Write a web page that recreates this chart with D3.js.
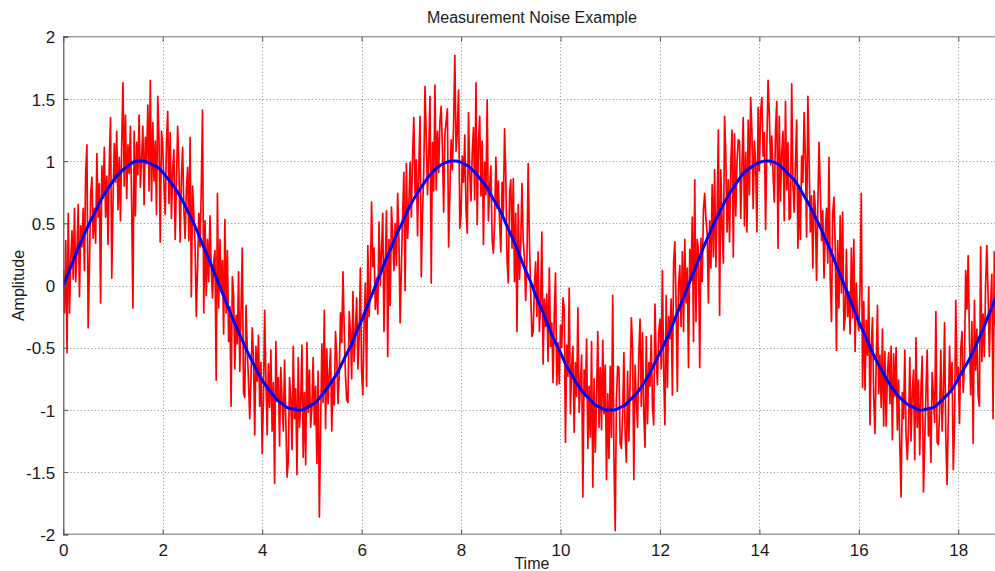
<!DOCTYPE html>
<html>
<head>
<meta charset="utf-8">
<script src="https://cdn.jsdelivr.net/npm/d3@7"></script>
<style>
  body { margin: 0; background: #fff; }
  svg { display: block; font-family: "Liberation Sans", Arial, sans-serif; }
</style>
</head>
<body>
<svg id="chart" width="995" height="571"></svg>
<script>
// time step of each series (samples start at t = 0)
const noisyStep = 0.025;
const cleanStep = 0.1;

const noisy = [
  0.12, -0.22, 0.36, -0.54, 0.58, -0.22, 0.20, 0.44, 0.05, 0.62, 0.03, 0.29, 0.65, -0.09, 0.48, 0.31, 0.62, 0.12, 0.91, 1.13, -0.34, 0.13, 0.73, 0.87, 0.38, 0.62, 0.34, 1.06, 0.55, 0.82, -0.14, 0.96, 0.70, 1.11, 0.55, 0.88, 0.33, 0.99, 1.35, 0.06,
  0.67, 1.14, 0.83, 1.24, 0.61, 1.03, 0.52, 1.14, 1.63, 0.80, 1.37, 0.70, 1.13, 0.90, 1.28, 0.65, -0.18, 1.24, 0.56, 1.15, 0.89, 1.37, 0.79, 1.03, 1.28, 0.65, 1.19, 0.98, 1.45, 0.76, 1.65, 0.68, 1.31, 0.84, 1.16, 0.57, 1.52, 1.18, 0.35, 1.24,
  1.12, 0.81, 0.57, 1.15, 1.40, 0.66, 1.23, 0.54, 0.93, 1.09, 0.37, 0.82, 1.28, 0.97, 0.35, 0.86, 1.11, 0.61, 0.38, 0.76, 0.95, 0.36, 1.19, -0.09, 0.80, 0.58, 0.34, -0.25, 0.13, 0.58, 0.31, 0.77, 1.41, -0.22, 0.52, -0.08, 0.37, 0.03, 0.56, 0.15,
  -0.10, 0.19, 0.28, -0.76, 0.74, -0.18, 0.37, -0.05, 0.20, -0.39, 0.53, -0.22, 0.28, -0.45, -0.17, -0.97, 0.07, -0.07, -0.67, -0.24, -0.47, 0.11, -0.69, -0.19, 0.30, -0.86, -0.90, -0.16, -0.51, -0.77, -1.07, -0.74, -0.34, -0.58, -1.20, -0.49, -0.77, -0.40, -0.97, -0.62,
  -1.35, -0.93, -0.20, -0.75, -1.20, -0.63, -0.98, -0.52, -1.17, -0.78, -1.59, -0.45, -0.93, -0.74, -1.29, -0.66, -0.92, -1.17, -0.60, -1.08, -1.54, -1.41, -0.74, -0.91, -1.32, -0.49, -1.07, -0.83, -1.52, -0.58, -1.14, -0.94, -0.48, -1.38, -0.86, -1.44, -0.46, -1.02, -0.68, -1.14,
  -0.98, -0.58, -1.12, -0.81, -1.43, -0.69, -1.86, -1.14, -0.47, -0.94, -0.20, -1.15, -0.51, -0.95, -0.71, -0.51, -1.17, -0.75, -0.96, -0.37, -0.57, -0.95, -0.72, -0.22, -0.46, 0.11, -0.35, -0.72, -0.92, -0.94, -0.21, -0.37, -0.75, -0.05, -0.61, -0.37, -0.10, -0.67, -0.42, 0.14,
  -0.69, -0.88, -0.29, 0.02, -0.81, 0.32, -0.25, -0.02, 0.67, 0.15, 0.30, -0.19, 0.06, -0.23, 0.51, 0.00, 0.28, 0.58, -0.37, 0.17, 0.60, -0.57, 0.37, -0.16, 0.63, 0.41, 0.12, 0.50, 0.16, 0.74, 0.37, -0.30, 0.15, 0.57, 0.91, -0.04, 0.98, 0.38, 0.64, 0.99,
  0.55, 1.04, 1.35, 0.74, 1.01, 0.40, 0.95, 1.36, 0.07, 0.58, 0.92, 1.60, 1.19, 0.73, 1.08, 1.52, 0.02, 1.15, 0.76, 1.61, 0.77, 1.24, 0.91, 1.32, 1.44, 1.11, 0.59, 1.21, 1.32, 1.42, 0.31, 0.74, 1.17, 0.93, 1.30, 1.85, 1.08, 1.24, 1.57, 0.46,
  0.58, 1.04, 0.83, 1.21, 0.61, 0.42, 1.39, 0.90, 0.68, 1.07, 1.27, 0.69, 1.63, 0.49, 1.16, 1.36, 0.72, 1.16, 0.33, 0.99, 0.73, 1.49, 0.52, 0.79, 0.96, 0.38, 0.26, 0.50, 1.03, 0.62, 0.84, 0.52, 0.27, 0.83, 0.57, 1.26, 0.89, 0.20, 0.02, 0.73,
  0.85, 0.30, 0.86, 0.03, 0.58, -0.37, 0.65, 0.05, 0.33, 0.82, 0.36, 0.22, -0.12, 0.22, 0.98, 0.36, -0.05, -0.41, -0.37, 0.00, 0.19, -0.25, 0.27, -0.37, -0.15, 0.43, -0.63, -0.11, -0.33, -0.07, -0.61, 0.14, -0.49, -0.30, -0.78, -0.23, 0.10, -0.80, -0.46, -0.79,
  -0.32, -0.50, -0.10, -0.19, -1.26, -0.48, -0.73, -0.02, -1.03, -0.64, -0.49, -1.18, -0.62, -0.89, -0.18, -1.02, -0.80, -0.56, -1.70, -0.68, -0.89, -0.43, -1.31, -0.81, -1.22, -0.45, -1.62, -0.75, -1.34, -0.91, -0.37, -1.14, -0.66, -1.16, -0.44, -1.03, -0.64, -1.56, -0.87, -1.39,
  -0.65, -1.22, -0.08, -1.40, -1.97, -0.90, -0.65, -0.66, -1.27, -1.31, -1.03, -0.54, -1.19, -1.42, -0.69, -1.25, -0.77, -0.26, -0.51, -1.56, -0.64, -0.93, -1.14, -0.54, -0.27, -0.97, -0.38, -1.03, -1.30, -0.41, -1.11, -0.62, -0.81, -0.40, -0.98, -1.12, -0.15, -0.61, -0.80, -0.38,
  -0.27, -0.67, 0.12, -0.70, -1.12, -0.08, -0.82, -0.25, -0.43, -0.11, -0.88, 0.19, 0.35, -0.16, -0.85, 0.01, 0.16, -0.33, 0.27, -0.37, 0.37, -0.14, 0.14, -0.66, 0.29, 0.04, 0.55, -0.45, 0.85, -0.29, 0.37, 0.28, -0.66, 0.38, 0.03, 0.61, 0.74, 0.53, 0.42, -0.14,
  0.52, 0.14, 0.81, 0.23, 0.93, 0.15, 0.60, 1.25, -0.24, 0.93, 0.46, 0.18, 1.36, 1.05, 0.43, 0.85, 0.35, 0.98, 1.25, 0.23, 1.22, 0.56, 1.00, 1.17, 1.16, 0.54, 0.96, 1.35, 0.48, 1.07, 0.43, 1.33, 0.73, 1.51, 1.24, 0.62, 1.16, 0.97, 0.43, 1.43,
  0.92, 1.40, 1.51, 1.04, 1.23, 0.45, 1.13, 1.65, 1.37, 0.97, 1.20, 0.90, 0.67, 1.25, 1.48, 0.30, 1.36, 0.68, 1.07, 1.24, 0.52, 1.48, 0.77, 1.15, 0.53, 0.55, 1.62, 0.81, 0.59, 0.97, 1.33, 0.30, 0.80, 0.37, 1.04, 0.83, 1.39, 1.03, 0.39, 1.52,
  1.03, 0.43, 0.72, 0.14, 0.76, 0.62, 0.04, 0.63, 1.15, 0.78, 0.36, 0.60, 0.06, 0.43, 0.62, 0.18, 1.03, 0.06, -0.29, 0.58, 0.71, 0.32, -0.52, 0.36, -0.18, 0.56, -0.06, 0.59, -0.36, -0.25, 0.29, -0.25, -0.05, -0.39, 0.30, -0.26, 0.37, -0.53, 0.02, -0.28,
  -0.36, -0.01, 0.74, -0.82, -0.13, -0.84, -0.28, -0.56, -0.01, -1.12, -0.49, -0.26, -0.91, -1.19, -0.61, -0.16, -0.87, -0.56, -0.98, -0.35, -1.13, -0.53, -1.13, -0.71, -0.54, -0.95, -0.49, -1.24, -0.55, -0.89, -0.50, -1.16, -0.76, -1.29, -1.70, -0.86, -1.07, -0.52, -1.21, -1.40,
  -1.15, -0.58, -1.25, -0.86, -0.68, -1.40, -0.42, -1.14, -0.76, -1.36, -0.83, -0.57, -1.66, -1.26, -0.86, -0.52, -1.21, -0.98, -1.42, -0.70, -0.89, -1.10, -0.21, -1.26, -1.28, -1.01, -0.52, -1.17, -0.87, -0.30, -1.23, -1.60, -1.05, -0.49, -0.86, -0.62, -1.48, -1.12, -0.12, -0.74,
  -0.66, -1.11, -0.51, -0.37, -0.86, -0.62, 0.12, -0.19, 0.24, -0.43, -0.88, -0.29, -1.27, -0.12, -0.68, -0.35, -0.89, -0.97, 0.31, -0.61, -0.23, -0.57, 0.01, 0.32, -0.07, -0.57, -0.15, 0.09, -1.07, 0.27, -0.32, -0.06, 0.30, -0.44, 0.14
];

// clean reference curve
const clean = [
  0.00, 0.10, 0.20, 0.30, 0.39, 0.48, 0.56, 0.64, 0.72, 0.78, 0.84, 0.89, 0.93, 0.96, 0.99, 1.00, 1.00, 0.99, 0.97, 0.95,
  0.91, 0.86, 0.81, 0.75, 0.68, 0.60, 0.52, 0.43, 0.33, 0.24, 0.14, 0.04, -0.06, -0.16, -0.26, -0.35, -0.44, -0.53, -0.61, -0.69,
  -0.76, -0.82, -0.87, -0.92, -0.95, -0.98, -0.99, -1.00, -1.00, -0.98, -0.96, -0.93, -0.88, -0.83, -0.77, -0.71, -0.63, -0.55, -0.47, -0.37,
  -0.28, -0.18, -0.08, 0.02, 0.12, 0.22, 0.31, 0.41, 0.49, 0.58, 0.66, 0.73, 0.79, 0.85, 0.90, 0.94, 0.97, 0.99, 1.00, 1.00,
  0.99, 0.97, 0.94, 0.90, 0.85, 0.80, 0.73, 0.66, 0.59, 0.50, 0.41, 0.32, 0.22, 0.12, 0.03, -0.08, -0.17, -0.27, -0.37, -0.46,
  -0.54, -0.63, -0.70, -0.77, -0.83, -0.88, -0.92, -0.96, -0.98, -1.00, -1.00, -1.00, -0.98, -0.96, -0.92, -0.88, -0.83, -0.77, -0.70, -0.62,
  -0.54, -0.46, -0.37, -0.27, -0.17, -0.07, 0.03, 0.13, 0.23, 0.33, 0.42, 0.51, 0.59, 0.67, 0.74, 0.80, 0.86, 0.91, 0.94, 0.97,
  0.99, 1.00, 1.00, 0.99, 0.97, 0.93, 0.89, 0.85, 0.79, 0.72, 0.65, 0.57, 0.49, 0.40, 0.31, 0.21, 0.11, 0.01, -0.09, -0.19,
  -0.29, -0.38, -0.47, -0.56, -0.64, -0.71, -0.78, -0.84, -0.89, -0.93, -0.96, -0.98, -1.00, -1.00, -0.99, -0.98, -0.95, -0.91, -0.87, -0.82,
  -0.75, -0.68, -0.61, -0.53, -0.44, -0.35, -0.25, -0.15, -0.05
];

const xTicks = [0, 2, 4, 6, 8, 10, 12, 14, 16, 18];
const yTicks = [-2, -1.5, -1, -0.5, 0, 0.5, 1, 1.5, 2];

const xMax = 6 * Math.PI;
const plotLeft = 63.3, plotTop = 36.7, plotBottom = 534.3;
const pxPerUnit = 49.72;

const svg = d3.select("#chart");

const x = d3.scaleLinear().domain([0, xMax]).range([plotLeft, plotLeft + xMax * pxPerUnit]);
const y = d3.scaleLinear().domain([-2, 2]).range([plotBottom, plotTop]);

const plotRight = x.range()[1];
const plotW = plotRight - plotLeft;
const plotH = plotBottom - plotTop;

svg.append("defs").append("clipPath").attr("id", "plot-clip")
  .append("rect").attr("x", plotLeft).attr("y", plotTop).attr("width", plotW).attr("height", plotH);

// dotted grid
const grid = svg.append("g").attr("stroke", "#8c8c8c").attr("stroke-width", 1).attr("stroke-dasharray", "1,2.5");
grid.selectAll("line.gx").data(xTicks.filter(d => d > 0)).join("line")
  .attr("x1", d => Math.round(x(d)) + 0.5).attr("x2", d => Math.round(x(d)) + 0.5)
  .attr("y1", plotTop).attr("y2", plotBottom);
grid.selectAll("line.gy").data(yTicks.filter(d => d > -2 && d < 2)).join("line")
  .attr("y1", d => Math.round(y(d)) + 0.5).attr("y2", d => Math.round(y(d)) + 0.5)
  .attr("x1", plotLeft).attr("x2", plotRight);

// data
const plot = svg.append("g").attr("clip-path", "url(#plot-clip)");

const noisyLine = d3.line().x((d, i) => x(i * noisyStep)).y(d => y(d));
plot.append("path").datum(noisy)
  .attr("fill", "none").attr("stroke", "#ff0000").attr("stroke-width", 1.7)
  .attr("stroke-linejoin", "round")
  .attr("d", noisyLine);

const cleanLine = d3.line().x((d, i) => x(i * cleanStep)).y(d => y(d)).curve(d3.curveNatural);
plot.append("path").datum(clean)
  .attr("fill", "none").attr("stroke", "#0000ff").attr("stroke-width", 3)
  .attr("d", cleanLine);

// box
svg.append("line").attr("x1", plotLeft).attr("x2", plotRight).attr("y1", plotTop).attr("y2", plotTop)
  .attr("stroke", "#a0a0a0").attr("stroke-width", 1.6);
svg.append("line").attr("x1", plotLeft).attr("x2", plotRight).attr("y1", plotBottom).attr("y2", plotBottom)
  .attr("stroke", "#a0a0a0").attr("stroke-width", 1.6);

// axes (ticks point inward, MATLAB style)
const axisFont = g => g.selectAll("text")
  .attr("font-size", 17).attr("fill", "#1a1a1a")
  .attr("font-family", "'Liberation Sans', Arial, sans-serif");

const xAxis = svg.append("g").attr("transform", `translate(0,${plotBottom})`)
  .call(d3.axisBottom(x).tickValues(xTicks).tickSize(-5).tickPadding(10).tickFormat(d => String(d)));
xAxis.select(".domain").remove();
xAxis.selectAll(".tick line").attr("stroke", "#555");
xAxis.call(axisFont);

const xTopAxis = svg.append("g").attr("transform", `translate(0,${plotTop})`)
  .call(d3.axisTop(x).tickValues(xTicks).tickSize(-5).tickFormat(""));
xTopAxis.select(".domain").remove();
xTopAxis.selectAll(".tick line").attr("stroke", "#555");

const yAxis = svg.append("g").attr("transform", `translate(${plotLeft},0)`)
  .call(d3.axisLeft(y).tickValues(yTicks).tickSize(-5).tickPadding(8).tickFormat(d => String(d)));
yAxis.select(".domain").attr("stroke", "#555").attr("stroke-width", 1.2);
yAxis.selectAll(".tick line").attr("stroke", "#555");
yAxis.call(axisFont);
yAxis.selectAll(".tick text").attr("dy", "0.36em");

// labels
const midX = plotLeft + plotW / 2;
svg.append("text").attr("x", midX).attr("y", 23).attr("text-anchor", "middle")
  .attr("font-size", 16).attr("fill", "#1a1a1a").text("Measurement Noise Example");
svg.append("text").attr("x", midX).attr("y", 569).attr("text-anchor", "middle")
  .attr("font-size", 16).attr("fill", "#1a1a1a").text("Time");
svg.append("text").attr("transform", `translate(24,${(plotTop + plotBottom) / 2}) rotate(-90)`)
  .attr("text-anchor", "middle").attr("font-size", 16).attr("fill", "#1a1a1a").text("Amplitude");
</script>
</body>
</html>
